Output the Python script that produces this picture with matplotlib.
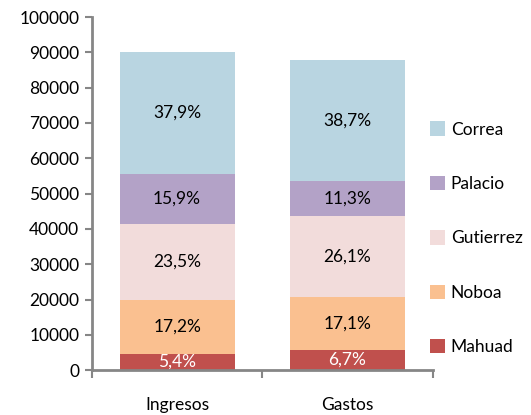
import matplotlib.pyplot as plt
import numpy as np

# ---- Data ----
categories = ['Ingresos', 'Gastos']
series_names = ['Mahuad', 'Noboa', 'Gutierrez', 'Palacio', 'Correa']
series_colors = ['#C0504D', '#FAC090', '#F2DCDB', '#B3A2C7', '#B9D5E1']

mahuad    = [4600, 5700]
noboa     = [15400, 14900]
gutierrez = [21300, 23000]
palacio   = [14300, 10100]
correa    = [34400, 34000]

pct_mahuad    = ['5,4%', '6,7%']
pct_noboa     = ['17,2%', '17,1%']
pct_gutierrez = ['23,5%', '26,1%']
pct_palacio   = ['15,9%', '11,3%']
pct_correa    = ['37,9%', '38,7%']

series_values = [mahuad, noboa, gutierrez, palacio, correa]
series_labels = [pct_mahuad, pct_noboa, pct_gutierrez, pct_palacio, pct_correa]
label_colors = ['white', 'black', 'black', 'black', 'black']

plt.rcParams['font.family'] = ['Lato', 'DejaVu Sans']
fs = 12.5

fig = plt.figure(figsize=(5.31, 4.15), dpi=100)
ax = fig.add_axes([0.173, 0.108, 0.642, 0.851])

x = np.arange(len(categories))
bottom = np.zeros(len(categories))
handles = []
for name, vals, color, labels, lc in zip(series_names, series_values, series_colors,
                                         series_labels, label_colors):
    vals = np.array(vals, dtype=float)
    bars = ax.bar(x, vals, width=0.675, bottom=bottom, color=color, label=name, zorder=2)
    handles.append(bars)
    for xi, b, v, txt in zip(x, bottom, vals, labels):
        ax.text(xi, b + v / 2, txt, ha='center', va='center', fontsize=fs, color=lc, zorder=3)
    bottom += vals

ax.set_xlim(-0.5, 1.5)
ax.set_ylim(0, 100000)
ax.set_yticks(np.arange(0, 100001, 10000))
ax.set_yticklabels([str(v) for v in range(0, 100001, 10000)])
ax.tick_params(axis='y', labelsize=fs, length=5, width=1.5, color='#868686', pad=4)

ax.set_xticks(x)
ax.set_xticklabels(categories)
ax.set_xticks([-0.5, 0.5, 1.5], minor=True)
ax.tick_params(axis='x', which='major', length=0, labelsize=fs, pad=19)
ax.tick_params(axis='x', which='minor', length=6, width=1.5, color='#868686')

for side in ['top', 'right']:
    ax.spines[side].set_visible(False)
for side in ['left', 'bottom']:
    ax.spines[side].set_color('#868686')
    ax.spines[side].set_linewidth(2)
    ax.spines[side].set_zorder(4)

leg = fig.legend(handles[::-1], series_names[::-1], loc='upper left',
                 bbox_to_anchor=(0.78, 0.745), frameon=False, fontsize=fs,
                 handlelength=0.9, handleheight=0.9, handletextpad=0.3,
                 labelspacing=2.2)

plt.savefig('out.png', dpi=100)
